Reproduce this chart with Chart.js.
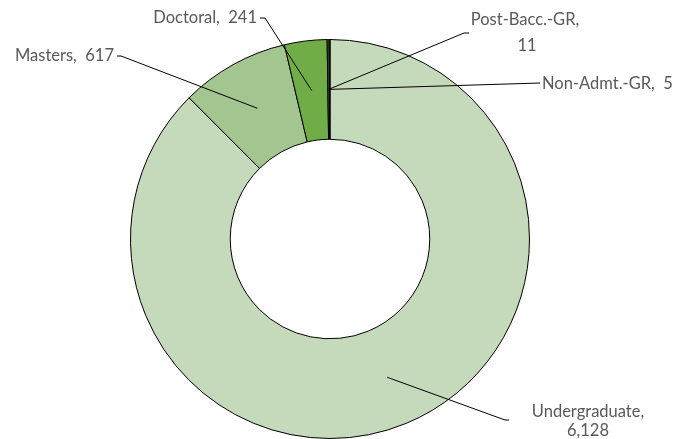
<!DOCTYPE html>
<html>
<head>
<meta charset="utf-8">
<script src="https://cdn.jsdelivr.net/npm/chart.js@4.4.1/dist/chart.umd.min.js"></script>
<style>
  html, body { margin: 0; padding: 0; background: #ffffff; }
  #wrap { width: 679px; height: 439px; }
</style>
</head>
<body>
<div id="wrap"><canvas id="c" width="679" height="439"></canvas></div>
<script>
// ---- data ----
const categories = ["Undergraduate", "Masters", "Doctoral", "Post-Bacc.-GR", "Non-Admt.-GR"];
const enrollment = [6128, 617, 241, 11, 5];
const valueLabels = ["6,128", "617", "241", "11", "5"];

// ---- style / layout (not data) ----
const sliceColors = ["#c5d9bb", "#a3c58f", "#70ad47", "#548235", "#375623"];
const FONT = '16.5px Lato, "Open Sans", sans-serif';
const TEXT_COLOR = "#595959";
const labelLayout = [
  { ex: 509, ey: 420, hook: -4, lines: [[categories[0] + ",", 588, 412, "center"], [valueLabels[0], 588, 431, "center"]] },
  { ex: 117, ey: 56, hook: 4, lines: [[categories[1] + ",  " + valueLabels[1], 114, 56, "right"]] },
  { ex: 260, ey: 18, hook: 5, lines: [[categories[2] + ",  " + valueLabels[2], 257, 18, "right"]] },
  { ex: 469, ey: 33, hook: -5, lines: [[categories[3] + ",", 525, 20, "center"], [valueLabels[3], 527, 46, "center"]] },
  { ex: 540, ey: 83, hook: 0, lines: [[categories[4] + ",  " + valueLabels[4], 542, 84, "left"]] }
];

const leaderPlugin = {
  id: "leaders",
  afterDatasetsDraw(chart) {
    const ctx = chart.ctx;
    const meta = chart.getDatasetMeta(0);
    ctx.save();
    meta.data.forEach((arc, i) => {
      const p = arc.getProps(["x", "y", "startAngle", "endAngle", "innerRadius", "outerRadius"], true);
      const mid = (p.startAngle + p.endAngle) / 2;
      const r = (p.innerRadius + p.outerRadius) / 2;
      const ax = p.x + Math.cos(mid) * r;
      const ay = p.y + Math.sin(mid) * r;
      const L = labelLayout[i];
      ctx.strokeStyle = "#000000";
      ctx.lineWidth = 1;
      ctx.beginPath();
      ctx.moveTo(ax, ay);
      if (L.hook !== 0) {
        ctx.lineTo(L.ex + L.hook, L.ey);
        ctx.lineTo(L.ex, L.ey);
      } else {
        ctx.lineTo(L.ex, L.ey);
      }
      ctx.stroke();
      ctx.fillStyle = TEXT_COLOR;
      ctx.font = FONT;
      ctx.textBaseline = "middle";
      L.lines.forEach(([t, x, y, al]) => {
        ctx.textAlign = al;
        ctx.fillText(t, x, y);
      });
    });
    ctx.restore();
  }
};

new Chart(document.getElementById("c"), {
  type: "doughnut",
  data: {
    labels: categories,
    datasets: [{
      data: enrollment,
      backgroundColor: sliceColors,
      borderColor: "#000000",
      borderWidth: 1
    }]
  },
  options: {
    responsive: false,
    animation: false,
    cutout: "50%",
    layout: { padding: { top: 39, bottom: -2, left: 99, right: 118 } },
    plugins: {
      legend: { display: false },
      tooltip: { enabled: false }
    }
  },
  plugins: [leaderPlugin]
});
</script>
</body>
</html>
